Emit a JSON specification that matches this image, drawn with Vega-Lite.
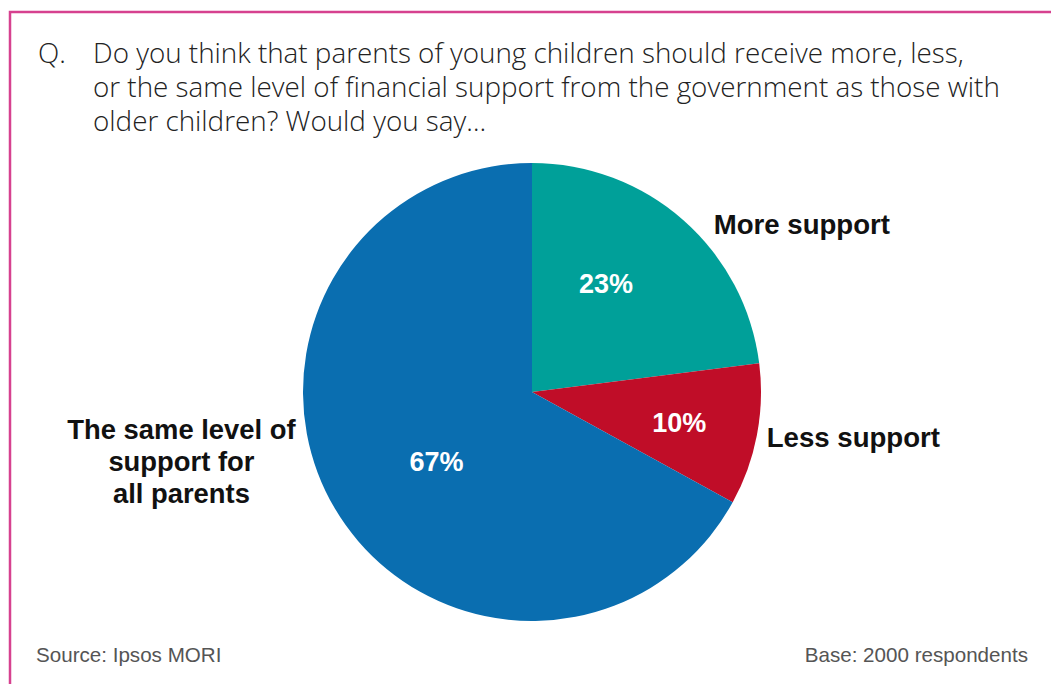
{
  "$schema": "https://vega.github.io/schema/vega-lite/v6.json",
  "width": 1044,
  "height": 760,
  "autosize": "none",
  "padding": {"left": 10, "top": 12, "right": 0, "bottom": 0},
  "background": "#ffffff",
  "config": {"view": {"stroke": "#d6418f", "strokeWidth": 2.5}},
  "datasets": {
    "slices": [
      {"label": "More support", "rank": 1, "value": 23, "pct": "23%"},
      {"label": "Less support", "rank": 2, "value": 10, "pct": "10%"},
      {"label": "The same level of\nsupport for\nall parents", "rank": 3, "value": 67, "pct": "67%"}
    ],
    "notes": [
      {"q": "Q.", "question": "Do you think that parents of young children should receive more, less,\nor the same level of financial support from the government as those with\nolder children? Would you say…", "source": "Source: Ipsos MORI", "base": "Base: 2000 respondents"}
    ]
  },
  "encoding": {
    "theta": {"field": "value", "type": "quantitative", "stack": true},
    "order": {"field": "rank", "type": "ordinal"},
    "color": {
      "field": "label", "type": "nominal", "legend": null,
      "scale": {"domain": ["More support", "Less support", "The same level of\nsupport for\nall parents"], "range": ["#00a099", "#c00d28", "#0a6eb0"]}
    }
  },
  "layer": [
    {"data": {"name": "slices"}, "mark": {"type": "arc", "outerRadius": 229}},
    {"data": {"name": "slices"},
     "mark": {"type": "text", "radius": 130, "dx": -12, "dy": -9, "font": "Liberation Sans", "fontWeight": "bold", "fontSize": 27, "align": "center", "baseline": "middle"},
     "encoding": {"color": {"value": "#ffffff"}, "text": {"condition": {"test": "datum.rank == 1", "field": "pct"}, "value": ""}}},
    {"data": {"name": "slices"},
     "mark": {"type": "text", "radius": 150, "dx": 0, "dy": 4, "font": "Liberation Sans", "fontWeight": "bold", "fontSize": 27, "align": "center", "baseline": "middle"},
     "encoding": {"color": {"value": "#ffffff"}, "text": {"condition": {"test": "datum.rank == 2", "field": "pct"}, "value": ""}}},
    {"data": {"name": "slices"},
     "mark": {"type": "text", "radius": 119, "dx": 7, "dy": 10, "font": "Liberation Sans", "fontWeight": "bold", "fontSize": 27, "align": "center", "baseline": "middle"},
     "encoding": {"color": {"value": "#ffffff"}, "text": {"condition": {"test": "datum.rank == 3", "field": "pct"}, "value": ""}}},
    {"data": {"name": "slices"},
     "mark": {"type": "text", "radius": 240, "dx": 23, "dy": 14, "font": "Liberation Sans", "fontWeight": "bold", "fontSize": 27.6, "align": "left", "baseline": "middle"},
     "encoding": {"color": {"value": "#111111"}, "text": {"condition": {"test": "datum.rank == 1", "field": "label"}, "value": ""}}},
    {"data": {"name": "slices"},
     "mark": {"type": "text", "radius": 240, "dx": -1, "dy": 2, "font": "Liberation Sans", "fontWeight": "bold", "fontSize": 27.6, "align": "left", "baseline": "middle"},
     "encoding": {"color": {"value": "#111111"}, "text": {"condition": {"test": "datum.rank == 2", "field": "label"}, "value": ""}}},
    {"data": {"name": "slices"},
     "mark": {"type": "text", "radius": 240, "dx": -144, "dy": -83, "font": "Liberation Sans", "fontWeight": "bold", "fontSize": 27.4, "lineHeight": 32, "lineBreak": "\n", "align": "center", "baseline": "middle"},
     "encoding": {"color": {"value": "#111111"}, "text": {"condition": {"test": "datum.rank == 3", "field": "label"}, "value": ""}}},
    {"data": {"name": "notes"},
     "mark": {"type": "text", "font": "Open Sans", "fontWeight": 300, "fontSize": 27.8, "fill": "#222222", "align": "left", "baseline": "alphabetic"},
     "encoding": {"theta": null, "order": null, "color": null, "x": {"value": 28}, "y": {"value": 51}, "text": {"field": "q"}}},
    {"data": {"name": "notes"},
     "mark": {"type": "text", "font": "Open Sans", "fontWeight": 300, "fontSize": 27.8, "lineHeight": 34.2, "lineBreak": "\n", "fill": "#222222", "align": "left", "baseline": "alphabetic"},
     "encoding": {"theta": null, "order": null, "color": null, "x": {"value": 83}, "y": {"value": 51}, "text": {"field": "question"}}},
    {"data": {"name": "notes"},
     "mark": {"type": "text", "font": "Liberation Sans", "fontSize": 20.6, "fill": "#555555", "align": "left", "baseline": "alphabetic"},
     "encoding": {"theta": null, "order": null, "color": null, "x": {"value": 26}, "y": {"value": 650}, "text": {"field": "source"}}},
    {"data": {"name": "notes"},
     "mark": {"type": "text", "font": "Liberation Sans", "fontSize": 20.6, "fill": "#555555", "align": "right", "baseline": "alphabetic"},
     "encoding": {"theta": null, "order": null, "color": null, "x": {"value": 1018}, "y": {"value": 650}, "text": {"field": "base"}}}
  ]
}
